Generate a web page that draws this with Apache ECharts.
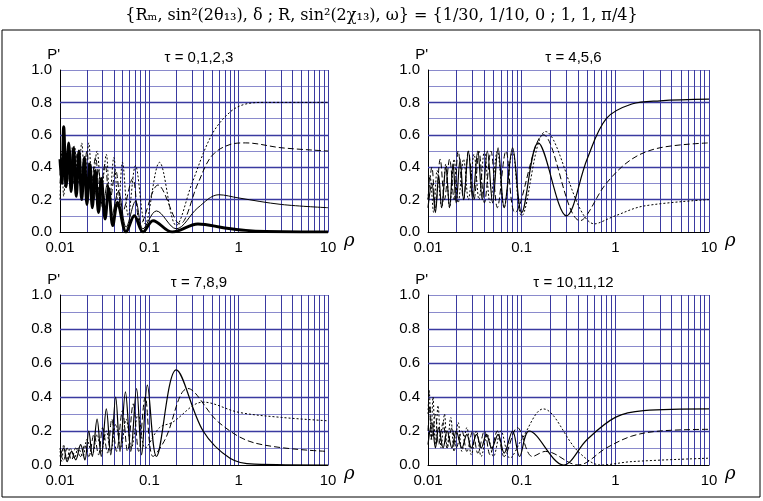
<!DOCTYPE html><html><head><meta charset="utf-8">
<script src="https://cdn.jsdelivr.net/npm/echarts@6/dist/echarts.min.js"></script>
<style>body{margin:0;background:#fff}#c{width:763px;height:501px}</style></head><body><div id="c"></div>
<script>
const panelTitles=['τ = 0,1,2,3','τ = 4,5,6','τ = 7,8,9','τ = 10,11,12'];
const xTicks=[0.01,0.1,1,10];
const minorX=[0.02,0.03,0.04,0.05,0.06,0.07,0.08,0.09,0.2,0.3,0.4,0.5,0.6,0.7,0.8,0.9,2,3,4,5,6,7,8,9];
// panel 1
const p1_t0=[[0.01,0.45],[0.0105,0.3],[0.011,0.65],[0.0117,0.28],[0.0125,0.55],[0.0133,0.25],[0.0142,0.52],[0.0152,0.22],[0.0163,0.5],[0.0175,0.2],[0.0188,0.46],[0.02,0.17],[0.0215,0.42],[0.023,0.15],[0.0248,0.38],[0.027,0.12],[0.029,0.33],[0.032,0.08],[0.035,0.27],[0.039,0.04],[0.044,0.18],[0.055,0],[0.068,0.1],[0.085,0],[0.11,0.07],[0.18,0],[0.35,0.05],[0.7,0.025],[1.2,0.01],[2,0.003],[5,0],[10,0]];
const p1_t1=[[0.01,0.35],[0.011,0.5],[0.012,0.32],[0.013,0.5],[0.014,0.3],[0.0155,0.48],[0.017,0.28],[0.0185,0.45],[0.02,0.25],[0.022,0.42],[0.024,0.2],[0.027,0.38],[0.03,0.15],[0.034,0.3],[0.038,0.1],[0.045,0.25],[0.055,0.03],[0.07,0.19],[0.085,0.02],[0.12,0.13],[0.2,0.02],[0.35,0.15],[0.6,0.23],[1,0.21],[3,0.17],[10,0.15]];
const p1_t2=[[0.01,0.3],[0.011,0.52],[0.012,0.3],[0.0135,0.52],[0.015,0.28],[0.0165,0.5],[0.018,0.27],[0.02,0.5],[0.022,0.26],[0.025,0.46],[0.028,0.22],[0.032,0.42],[0.036,0.18],[0.042,0.38],[0.05,0.12],[0.065,0.33],[0.08,0.05],[0.125,0.29],[0.22,0.05],[0.35,0.3],[0.5,0.47],[0.8,0.54],[1.2,0.55],[3,0.52],[10,0.5]];
const p1_t3=[[0.01,0.2],[0.0105,0.5],[0.011,0.22],[0.012,0.5],[0.013,0.3],[0.0145,0.53],[0.016,0.3],[0.0175,0.55],[0.019,0.3],[0.021,0.55],[0.023,0.28],[0.026,0.5],[0.029,0.25],[0.033,0.48],[0.036,0.2],[0.04,0.46],[0.045,0.15],[0.05,0.43],[0.058,0.1],[0.07,0.41],[0.09,0.05],[0.13,0.43],[0.2,0.04],[0.3,0.3],[0.5,0.6],[0.8,0.74],[1.2,0.79],[2,0.8],[10,0.8]];
// panel 2
const p2_t4=[[0.01,0.15],[0.011,0.3],[0.012,0.12],[0.013,0.35],[0.014,0.15],[0.0155,0.4],[0.017,0.15],[0.0185,0.42],[0.02,0.18],[0.022,0.45],[0.024,0.2],[0.027,0.5],[0.03,0.2],[0.034,0.5],[0.038,0.2],[0.043,0.5],[0.049,0.18],[0.056,0.52],[0.065,0.15],[0.08,0.52],[0.1,0.12],[0.15,0.55],[0.3,0.1],[0.5,0.45],[0.8,0.7],[1.5,0.79],[3,0.81],[10,0.82]];
const p2_t5=[[0.01,0.2],[0.011,0.4],[0.012,0.15],[0.0135,0.45],[0.015,0.2],[0.017,0.45],[0.019,0.2],[0.021,0.5],[0.024,0.2],[0.027,0.5],[0.031,0.2],[0.035,0.5],[0.04,0.18],[0.047,0.5],[0.055,0.15],[0.068,0.5],[0.085,0.12],[0.17,0.6],[0.42,0.07],[0.8,0.3],[1.5,0.45],[3,0.52],[10,0.55]];
const p2_t6=[[0.01,0.2],[0.0105,0.35],[0.0115,0.12],[0.0125,0.38],[0.014,0.15],[0.0155,0.42],[0.017,0.15],[0.019,0.45],[0.021,0.18],[0.024,0.45],[0.027,0.2],[0.031,0.48],[0.035,0.2],[0.04,0.5],[0.046,0.18],[0.055,0.5],[0.065,0.15],[0.08,0.5],[0.1,0.1],[0.18,0.62],[0.6,0.05],[1,0.1],[2,0.16],[10,0.2]];
// panel 3
const p3_t7=[[0.01,0.05],[0.011,0.1],[0.012,0.02],[0.0135,0.08],[0.015,0.03],[0.017,0.12],[0.019,0.03],[0.021,0.2],[0.023,0.05],[0.026,0.27],[0.029,0.05],[0.033,0.33],[0.037,0.06],[0.042,0.4],[0.047,0.08],[0.054,0.43],[0.062,0.08],[0.072,0.45],[0.082,0.06],[0.095,0.47],[0.12,0.05],[0.2,0.56],[0.4,0.2],[0.8,0.04],[1.5,0.005],[10,0]];
const p3_t8=[[0.01,0.08],[0.011,0.03],[0.012,0.1],[0.0135,0.03],[0.015,0.1],[0.017,0.05],[0.019,0.12],[0.021,0.05],[0.024,0.18],[0.027,0.06],[0.03,0.22],[0.034,0.07],[0.038,0.27],[0.043,0.08],[0.05,0.32],[0.057,0.08],[0.066,0.36],[0.076,0.08],[0.09,0.4],[0.11,0.05],[0.15,0.15],[0.27,0.45],[0.6,0.25],[1.5,0.13],[10,0.08]];
const p3_t9=[[0.01,0.1],[0.0105,0.02],[0.011,0.12],[0.012,0.03],[0.013,0.1],[0.0145,0.04],[0.016,0.1],[0.018,0.05],[0.02,0.15],[0.023,0.06],[0.026,0.18],[0.029,0.08],[0.033,0.2],[0.037,0.08],[0.042,0.24],[0.048,0.1],[0.055,0.27],[0.063,0.1],[0.075,0.3],[0.09,0.1],[0.13,0.22],[0.18,0.25],[0.4,0.37],[1,0.31],[3,0.28],[10,0.26]];
// panel 4
const p4_t10=[[0.01,0.12],[0.011,0.25],[0.012,0.1],[0.013,0.22],[0.0145,0.1],[0.016,0.2],[0.018,0.1],[0.02,0.2],[0.023,0.1],[0.026,0.18],[0.029,0.1],[0.033,0.18],[0.037,0.1],[0.042,0.18],[0.048,0.1],[0.056,0.18],[0.065,0.07],[0.08,0.2],[0.095,0.05],[0.12,0.2],[0.28,0],[0.5,0.15],[1,0.28],[2,0.32],[10,0.33]];
const p4_t11=[[0.01,0.2],[0.0105,0.35],[0.011,0.15],[0.012,0.3],[0.013,0.12],[0.0145,0.25],[0.016,0.1],[0.018,0.22],[0.02,0.1],[0.023,0.2],[0.026,0.08],[0.03,0.2],[0.034,0.07],[0.04,0.2],[0.046,0.06],[0.055,0.2],[0.065,0.05],[0.09,0.22],[0.13,0.05],[0.18,0.08],[0.4,0],[0.8,0.1],[1.5,0.17],[3,0.2],[10,0.21]];
const p4_t12=[[0.01,0.3],[0.0103,0.44],[0.0108,0.15],[0.0113,0.4],[0.012,0.12],[0.0128,0.35],[0.0138,0.1],[0.015,0.3],[0.016,0.1],[0.0175,0.28],[0.019,0.08],[0.021,0.25],[0.023,0.08],[0.026,0.22],[0.029,0.06],[0.033,0.2],[0.037,0.05],[0.043,0.18],[0.05,0.05],[0.06,0.2],[0.075,0.04],[0.1,0.15],[0.17,0.33],[0.4,0.08],[0.7,0],[1.5,0.02],[10,0.04]];
const panelSeries=[
 [[p1_t0,'solid',3],[p1_t1,'solid',1],[p1_t2,[6,3],1],[p1_t3,[2,2],1]],
 [[p2_t4,'solid',1.2],[p2_t5,[6,3],1],[p2_t6,[2,2],1]],
 [[p3_t7,'solid',1.2],[p3_t8,[6,3],1],[p3_t9,[2,2],1]],
 [[p4_t10,'solid',1.2],[p4_t11,[6,3],1],[p4_t12,[2,2],1]]
];
const yTicks=[0,0.2,0.4,0.6,0.8,1.0];
const grids=[{left:60,top:70,width:268,height:162},{left:428,top:70,width:281,height:162},{left:60,top:295,width:268,height:170},{left:428,top:295,width:281,height:170}];
const BL='#3a3aa0';
const opt={animation:false,grid:grids,xAxis:[],yAxis:[],series:[],title:[],graphic:[]};
opt.title.push({text:'{Rₘ, sin²(2θ₁₃), δ ; R, sin²(2χ₁₃), ω} = {1/30, 1/10, 0 ; 1, 1, π/4}',left:'center',top:3,textStyle:{fontFamily:'DejaVu Serif',fontWeight:'normal',fontSize:16,color:'#000'}});
opt.graphic.push({type:'rect',shape:{x:2,y:30,width:758,height:467},style:{fill:'none',stroke:'#000',lineWidth:1},silent:true});
grids.forEach((g,i)=>{
 opt.xAxis.push({type:'log',gridIndex:i,min:0.01,max:10,logBase:10,name:'ρ',nameGap:16,nameTextStyle:{fontFamily:'DejaVu Serif',fontStyle:'italic',fontSize:18,color:'#000',verticalAlign:'top',padding:[0,0,0,0]},
  axisLine:{lineStyle:{color:'#000'}},axisTick:{show:false},axisLabel:{color:'#000',fontSize:15,fontFamily:'Liberation Sans',formatter:v=>String(+v)},splitLine:{show:true,lineStyle:{color:BL,width:1}}});
 opt.yAxis.push({type:'value',gridIndex:i,min:0,max:1,interval:0.1,name:"P'",nameGap:6,nameTextStyle:{color:'#000',fontSize:15,fontFamily:'Liberation Sans',align:'right'},
  axisLine:{show:true,lineStyle:{color:'#000'}},axisTick:{show:false},axisLabel:{color:'#000',fontSize:15,fontFamily:'Liberation Sans',formatter:v=>{const r=Math.round(v*10);return r%2===0?(r/10).toFixed(1):'';}},
  splitLine:{show:true,lineStyle:{color:'#8a8acc',width:1}}});
 opt.title.push({text:panelTitles[i],left:g.left+g.width/2,top:g.top-25,textAlign:'center',textStyle:{fontFamily:'Liberation Sans',fontWeight:'normal',fontSize:15,color:'#000'}});
 opt.series.push({type:'line',xAxisIndex:i,yAxisIndex:i,data:[],silent:true,markLine:{silent:true,symbol:'none',label:{show:false},lineStyle:{color:BL,type:'solid',width:1},data:minorX.map(x=>({xAxis:x}))}});
 opt.series.push({type:'line',xAxisIndex:i,yAxisIndex:i,data:[],silent:true,markLine:{silent:true,symbol:'none',label:{show:false},lineStyle:{color:BL,type:'solid',width:1.3},data:yTicks.slice(1,5).map(y=>({yAxis:y}))}});
 panelSeries[i].forEach(([d,t,w])=>opt.series.push({type:'line',xAxisIndex:i,yAxisIndex:i,data:d,smooth:0.35,symbol:'none',lineStyle:{color:'#000',width:w,type:t},z:5}));
});
echarts.init(document.getElementById('c')).setOption(opt);
</script></body></html>
